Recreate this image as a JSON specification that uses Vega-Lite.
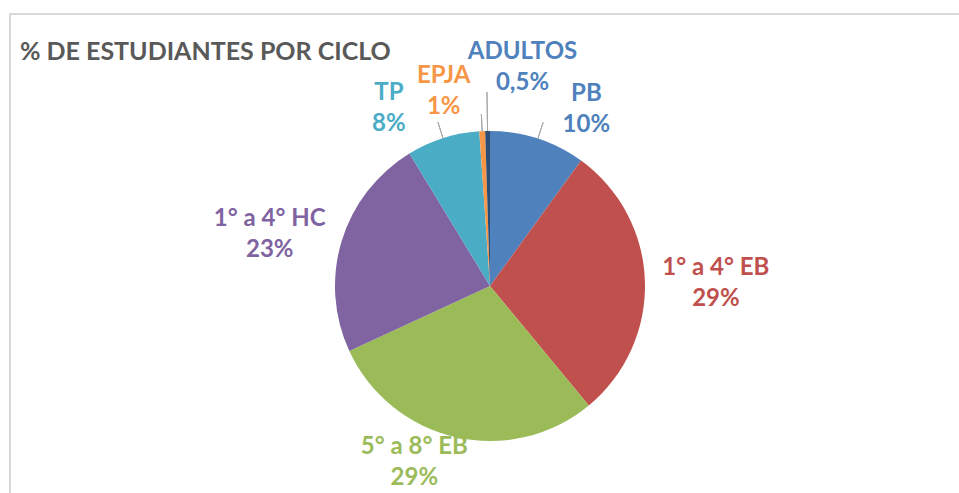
{
  "$schema": "https://vega.github.io/schema/vega-lite/v6.json",
  "width": 960,
  "height": 544,
  "autosize": {"type": "none"},
  "padding": {"left": 10, "top": 14, "right": -11, "bottom": -65},
  "background": "white",
  "view": {"stroke": "#d9d9d9", "strokeWidth": 2},
  "title": {
    "text": "% DE ESTUDIANTES POR CICLO",
    "anchor": "start",
    "frame": "group",
    "offset": -71,
    "baseline": "alphabetic",
    "dx": 10,
    "font": "Lato",
    "fontSize": 25,
    "fontWeight": "bold",
    "color": "#595959"
  },
  "config": {"view": {"stroke": "#d9d9d9", "strokeWidth": 2}, "font": "Lato"},
  "data": {
    "values": [
      {"ciclo": "PB", "valor": 10, "porcentaje": "10%", "orden": 1},
      {"ciclo": "1° a 4° EB", "valor": 29, "porcentaje": "29%", "orden": 2},
      {"ciclo": "5° a 8° EB", "valor": 29.1, "porcentaje": "29%", "orden": 3},
      {"ciclo": "1° a 4° HC", "valor": 23.2, "porcentaje": "23%", "orden": 4},
      {"ciclo": "TP", "valor": 7.6, "porcentaje": "8%", "orden": 5},
      {"ciclo": "EPJA", "valor": 0.6, "porcentaje": "1%", "orden": 6},
      {"ciclo": "ADULTOS", "valor": 0.5, "porcentaje": "0,5%", "orden": 7}
    ]
  },
  "transform": [{"calculate": "datum.ciclo + '\\n' + datum.porcentaje", "as": "etiqueta"}],
  "encoding": {
    "theta": {"field": "valor", "type": "quantitative", "stack": true},
    "order": {"field": "orden", "type": "quantitative"}
  },
  "layer": [
    {
      "mark": {"type": "arc", "outerRadius": 155},
      "encoding": {
        "color": {
          "field": "ciclo",
          "type": "nominal",
          "scale": {
            "domain": ["PB", "1° a 4° EB", "5° a 8° EB", "1° a 4° HC", "TP", "EPJA", "ADULTOS"],
            "range": ["#4F81BD", "#C0504D", "#9BBB59", "#8064A2", "#4BACC6", "#F79646", "#2C4D75"]
          },
          "legend": null
        }
      }
    },
    {
      "mark": {"type": "arc", "innerRadius": 155, "outerRadius": 172, "padAngle": 3, "filled": false, "stroke": "#a6a6a6", "strokeWidth": 1},
      "encoding": {
        "strokeOpacity": {"condition": {"test": "indexof(['PB','TP','EPJA'], datum.ciclo) >= 0", "value": 1}, "value": 0}
      }
    },
    {
      "mark": {"type": "arc", "innerRadius": 155, "outerRadius": 194, "padAngle": 3, "filled": false, "stroke": "#a6a6a6", "strokeWidth": 1},
      "encoding": {
        "strokeOpacity": {"condition": {"test": "datum.ciclo === 'ADULTOS'", "value": 1}, "value": 0}
      }
    },
    {
      "mark": {"type": "text", "radius": 205, "dx": 33, "dy": 3, "lineBreak": "\n", "fontSize": 24, "fontWeight": "bold", "lineHeight": 31, "align": "center", "baseline": "middle", "color": "#4F81BD"},
      "encoding": {"text": {"condition": {"test": "datum.ciclo === 'PB'", "field": "etiqueta"}, "value": ""}}
    },
    {
      "mark": {"type": "text", "radius": 226, "dx": 0, "dy": -11, "lineBreak": "\n", "fontSize": 24, "fontWeight": "bold", "lineHeight": 31, "align": "center", "baseline": "middle", "color": "#C0504D"},
      "encoding": {"text": {"condition": {"test": "datum.ciclo === '1° a 4° EB'", "field": "etiqueta"}, "value": ""}}
    },
    {
      "mark": {"type": "text", "radius": 193, "dx": -33, "dy": -27, "lineBreak": "\n", "fontSize": 24, "fontWeight": "bold", "lineHeight": 31, "align": "center", "baseline": "middle", "color": "#9BBB59"},
      "encoding": {"text": {"condition": {"test": "datum.ciclo === '5° a 8° EB'", "field": "etiqueta"}, "value": ""}}
    },
    {
      "mark": {"type": "text", "radius": 226, "dx": -4, "dy": -1, "lineBreak": "\n", "fontSize": 24, "fontWeight": "bold", "lineHeight": 31, "align": "center", "baseline": "middle", "color": "#8064A2"},
      "encoding": {"text": {"condition": {"test": "datum.ciclo === '1° a 4° HC'", "field": "etiqueta"}, "value": ""}}
    },
    {
      "mark": {"type": "text", "radius": 205, "dx": -39, "dy": 2, "lineBreak": "\n", "fontSize": 24, "fontWeight": "bold", "lineHeight": 31, "align": "center", "baseline": "middle", "color": "#4BACC6"},
      "encoding": {"text": {"condition": {"test": "datum.ciclo === 'TP'", "field": "etiqueta"}, "value": ""}}
    },
    {
      "mark": {"type": "text", "radius": 205, "dx": -36, "dy": -5, "lineBreak": "\n", "fontSize": 24, "fontWeight": "bold", "lineHeight": 31, "align": "center", "baseline": "middle", "color": "#F79646"},
      "encoding": {"text": {"condition": {"test": "datum.ciclo === 'EPJA'", "field": "etiqueta"}, "value": ""}}
    },
    {
      "mark": {"type": "text", "radius": 224, "dx": 36, "dy": -10, "lineBreak": "\n", "fontSize": 24, "fontWeight": "bold", "lineHeight": 31, "align": "center", "baseline": "middle", "color": "#4F81BD"},
      "encoding": {"text": {"condition": {"test": "datum.ciclo === 'ADULTOS'", "field": "etiqueta"}, "value": ""}}
    }
  ]
}
